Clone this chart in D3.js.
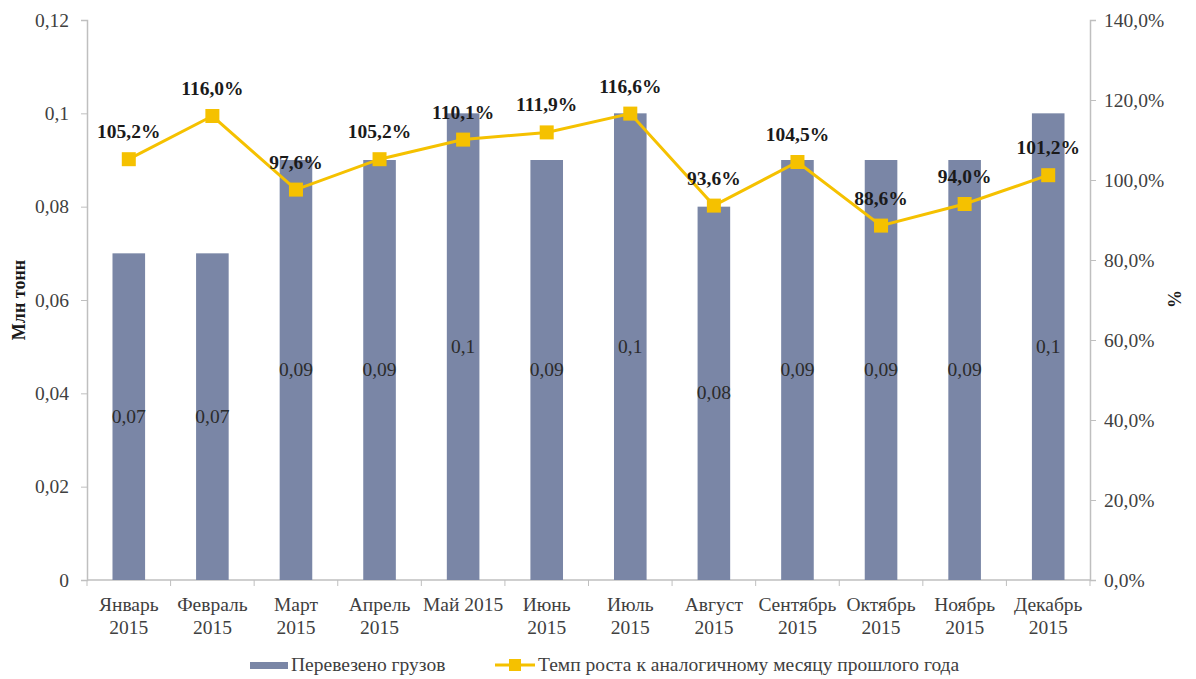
<!DOCTYPE html>
<html>
<head>
<meta charset="utf-8">
<script src="https://cdn.jsdelivr.net/npm/d3@7"></script>
<style>
  html, body { margin: 0; padding: 0; background: #ffffff; }
  svg { display: block; }
  svg text { font-family: 'Liberation Serif', 'Times New Roman', 'DejaVu Serif', serif !important; }
</style>
</head>
<body>
<svg id="chart" width="1196" height="679"></svg>
<script>
// Monthly freight volume (million tonnes) and year-over-year growth rate (%)
const months = [
  ["Январь", "2015"], ["Февраль", "2015"], ["Март", "2015"], ["Апрель", "2015"],
  ["Май 2015"], ["Июнь", "2015"], ["Июль", "2015"], ["Август", "2015"],
  ["Сентябрь", "2015"], ["Октябрь", "2015"], ["Ноябрь", "2015"], ["Декабрь", "2015"]
];
const cargo = [0.07, 0.07, 0.09, 0.09, 0.1, 0.09, 0.1, 0.08, 0.09, 0.09, 0.09, 0.1];
const growth = [105.2, 116.0, 97.6, 105.2, 110.1, 111.9, 116.6, 93.6, 104.5, 88.6, 94.0, 101.2];
const leftTicks = [0, 0.02, 0.04, 0.06, 0.08, 0.1, 0.12];
const rightTicks = [0, 20, 40, 60, 80, 100, 120, 140];
const seriesNames = ["Перевезено грузов", "Темп роста к аналогичному месяцу прошлого года"];
const axisTitles = ["Млн тонн", "%"];

const barColor = "#7a86a6";
const lineColor = "#f5c100";
const axisColor = "#bfbfbf";
const tickText = "#404040";
const fs = 19.5;

const svg = d3.select("#chart");
const m = { left: 87, right: 1090, top: 20, bottom: 580 };

const x = d3.scaleBand().domain(d3.range(months.length)).range([m.left, m.right]).paddingInner(0.61).paddingOuter(0.305);
const yL = d3.scaleLinear().domain([0, 0.12]).range([m.bottom, m.top]);
const yR = d3.scaleLinear().domain([0, 140]).range([m.bottom, m.top]);

const fmtL = v => String(v).replace(".", ",");
const fmtR = v => v.toFixed(1).replace(".", ",") + "%";

// Left axis
const gL = svg.append("g").attr("transform", `translate(${m.left},0)`)
  .call(d3.axisLeft(yL).tickValues(leftTicks).tickFormat(fmtL).tickSize(6).tickPadding(12));
// Right axis
const gR = svg.append("g").attr("transform", `translate(${m.right},0)`)
  .call(d3.axisRight(yR).tickValues(rightTicks).tickFormat(fmtR).tickSize(6).tickPadding(8));
[gL, gR].forEach(g => {
  g.select(".domain").attr("stroke", axisColor).attr("stroke-width", 1.5);
  g.selectAll(".tick line").attr("stroke", axisColor);
  g.selectAll(".tick text").attr("fill", tickText).attr("font-size", fs);
});

// Bottom axis with ticks at category boundaries
const bounds = d3.range(months.length + 1).map(i => m.left + i * (m.right - m.left) / months.length);
svg.append("line").attr("x1", m.left).attr("x2", m.right).attr("y1", m.bottom).attr("y2", m.bottom)
  .attr("stroke", axisColor).attr("stroke-width", 1.5);
svg.append("g").selectAll("line").data(bounds).join("line")
  .attr("x1", d => d).attr("x2", d => d).attr("y1", m.bottom).attr("y2", m.bottom + 6)
  .attr("stroke", axisColor);

// Category labels
const catG = svg.append("g");
months.forEach((lines, i) => {
  const cx = x(i) + x.bandwidth() / 2;
  const t = catG.append("text").attr("x", cx).attr("y", 611).attr("text-anchor", "middle")
    .attr("fill", tickText).attr("font-size", fs);
  lines.forEach((s, k) => t.append("tspan").attr("x", cx).attr("dy", k === 0 ? 0 : 23).text(s));
});

// Bars
svg.append("g").selectAll("rect").data(cargo).join("rect")
  .attr("x", (d, i) => x(i)).attr("width", x.bandwidth())
  .attr("y", d => yL(d)).attr("height", d => yL(0) - yL(d))
  .attr("fill", barColor);

// Bar value labels (centered inside)
svg.append("g").selectAll("text").data(cargo).join("text")
  .attr("x", (d, i) => x(i) + x.bandwidth() / 2)
  .attr("y", d => (yL(d) + yL(0)) / 2 + 6)
  .attr("text-anchor", "middle").attr("font-size", fs).attr("fill", "#2b2b2b")
  .text(fmtL);

// Growth line
const cx = i => x(i) + x.bandwidth() / 2;
svg.append("path").datum(growth)
  .attr("d", d3.line().x((d, i) => cx(i)).y(d => yR(d)))
  .attr("fill", "none").attr("stroke", lineColor).attr("stroke-width", 3);
svg.append("g").selectAll("rect").data(growth).join("rect")
  .attr("x", (d, i) => cx(i) - 7).attr("y", d => yR(d) - 7)
  .attr("width", 14).attr("height", 14).attr("fill", lineColor);

// Growth labels
svg.append("g").selectAll("text").data(growth).join("text")
  .attr("x", (d, i) => cx(i)).attr("y", d => yR(d) - 21)
  .attr("text-anchor", "middle").attr("font-size", fs).attr("font-weight", "bold")
  .attr("fill", "#1a1a1a").text(fmtR);

// Axis titles
svg.append("text").attr("transform", "translate(25,300) rotate(-90)")
  .attr("text-anchor", "middle").attr("font-size", 18).attr("font-weight", "bold")
  .attr("fill", "#1a1a1a").text(axisTitles[0]);
svg.append("text").attr("transform", "translate(1181,299) rotate(-90)")
  .attr("text-anchor", "middle").attr("font-size", 18).attr("font-weight", "bold")
  .attr("fill", "#1a1a1a").text(axisTitles[1]);

// Legend
const lg = svg.append("g");
lg.append("rect").attr("x", 250).attr("y", 662).attr("width", 38).attr("height", 7).attr("fill", barColor);
lg.append("text").attr("x", 291).attr("y", 671).attr("font-size", fs).attr("fill", tickText).text(seriesNames[0]);
lg.append("line").attr("x1", 495).attr("x2", 535).attr("y1", 665).attr("y2", 665)
  .attr("stroke", lineColor).attr("stroke-width", 3);
lg.append("rect").attr("x", 509).attr("y", 659).attr("width", 12).attr("height", 12).attr("fill", lineColor);
lg.append("text").attr("x", 538).attr("y", 671).attr("font-size", fs).attr("fill", tickText).text(seriesNames[1]);
</script>
</body>
</html>
